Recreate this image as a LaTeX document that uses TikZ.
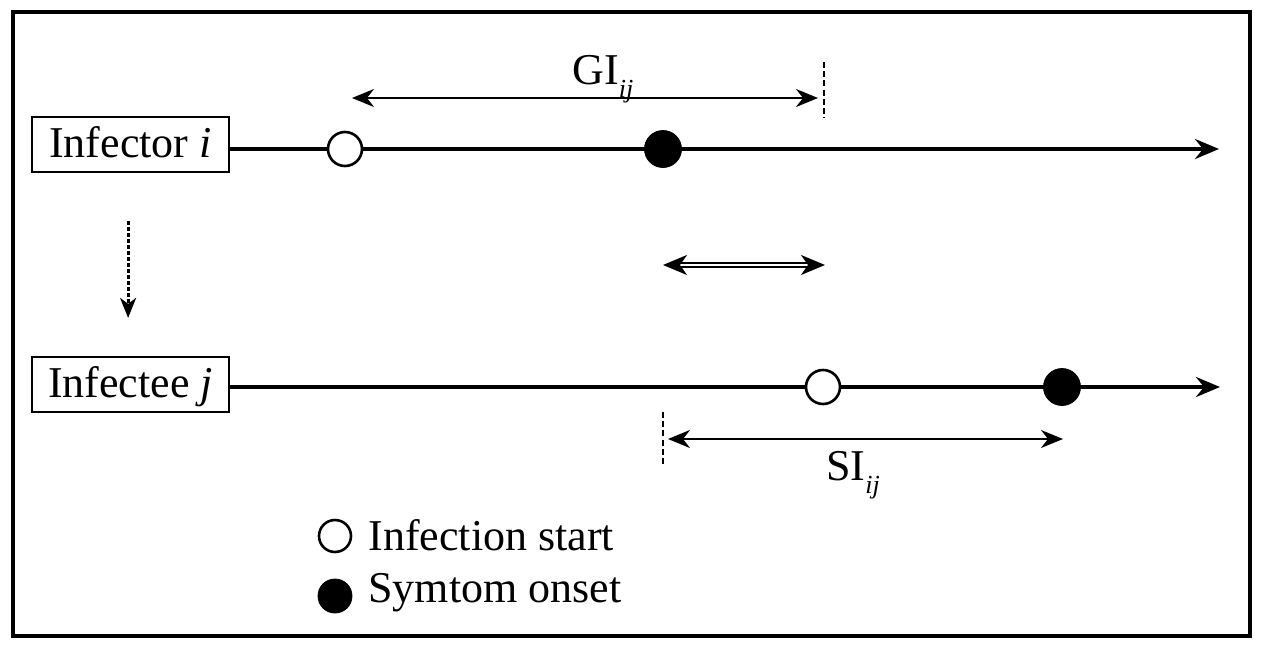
\documentclass[tikz,border=0pt]{standalone}
\usepackage{fontspec}
\setmainfont{Liberation Serif}
\usetikzlibrary{positioning,arrows.meta}

\begin{document}
\begin{tikzpicture}[
        x=0.5pt, y=-0.5pt,
        every node/.style={font=\fontsize{22}{26}\selectfont},
        person/.style={
            rectangle,
            draw,
            line width=0.9pt,
            minimum width=98.5pt,
            minimum height=27.5pt,
            text height=16pt,
            text depth=3pt
        },
        timeline/.style={line width=1.8pt, -{Stealth[length=12pt, width=10pt, inset=4pt]}},
        measure/.style={line width=1pt, {Stealth[length=11pt, width=9pt, inset=3.5pt]}-{Stealth[length=11pt, width=9pt, inset=3.5pt]}},
        tick/.style={line width=0.8pt, dash pattern=on 3pt off 1.6pt},
        infstart/.style={circle, draw, fill=white, line width=1.3pt, inner sep=0pt, minimum size=17pt},
        onset/.style={circle, draw, fill=black, inner sep=0pt, minimum size=18.5pt}
    ]
        \useasboundingbox (0,0) rectangle (1266,649);
        \draw[line width=1.6pt] (13,12) rectangle (1250,636);

        % the two people
        \node[person] (infector) at (130.5,144.5) {Infector \textit{i}};
        \node[person] (infectee) [below=91.5pt of infector] {Infectee \textit{j}};
        \draw[line width=1.5pt, dash pattern=on 2pt off 1pt, -{Stealth[length=10pt, width=8pt, inset=3pt]},
              shorten <=24pt, shorten >=19pt] ([xshift=-1.2pt]infector.south) -- ([xshift=-1.2pt]infectee.north);

        % time lines
        \coordinate (end1) at (1219,149);
        \coordinate (end2) at (1220,387);
        \draw[timeline] (infector.east |- end1) -- (end1);
        \draw[timeline] (infectee.east |- end2) -- (end2);
        \node[infstart] (start1) at (345,149) {};
        \node[onset]    (onset1) at (663,149) {};
        \node[infstart] (start2) at (823,387) {};
        \node[onset]    (onset2) at (1062,387) {};

        % generation interval
        \coordinate (gileft)  at (352,98);
        \coordinate (giright) at (818,98);
        \draw[measure] (gileft) -- (giright);
        \draw[tick] (824,62) -- (824,118);
        \node[anchor=base] (gilabel) at (603,84) {GI\raisebox{-0.3em}{\fontsize{13}{13}\selectfont\itshape ij}};

        % difference
        \coordinate (diffleft)  at (663,265);
        \coordinate (diffright) at (825,265);
        \draw[double, double distance=1.4pt, line width=0.9pt, {Stealth[length=12pt, width=10pt, inset=3.5pt]}-{Stealth[length=12pt, width=10pt, inset=3.5pt]}] (diffleft) -- (diffright);

        % serial interval
        \coordinate (sileft)  at (668,439);
        \coordinate (siright) at (1063,439);
        \draw[measure] (sileft) -- (siright);
        \draw[tick] (663,412) -- (663,467);
        \node[anchor=base] (silabel) at (853,480) {SI\raisebox{-0.3em}{\fontsize{13}{13}\selectfont\itshape ij}};

        % key
        \node[infstart, minimum size=16pt] (keystart) at (335,536) {};
        \node[onset, minimum size=17pt]    (keyonset) at (335,596) {};
        \node[anchor=base west, inner sep=0pt] (keystarttext) at (368,550) {Infection start};
        \node[anchor=base west, inner sep=0pt] (keyonsettext) at (368,602) {Symtom onset};
    \end{tikzpicture}
\end{document}
